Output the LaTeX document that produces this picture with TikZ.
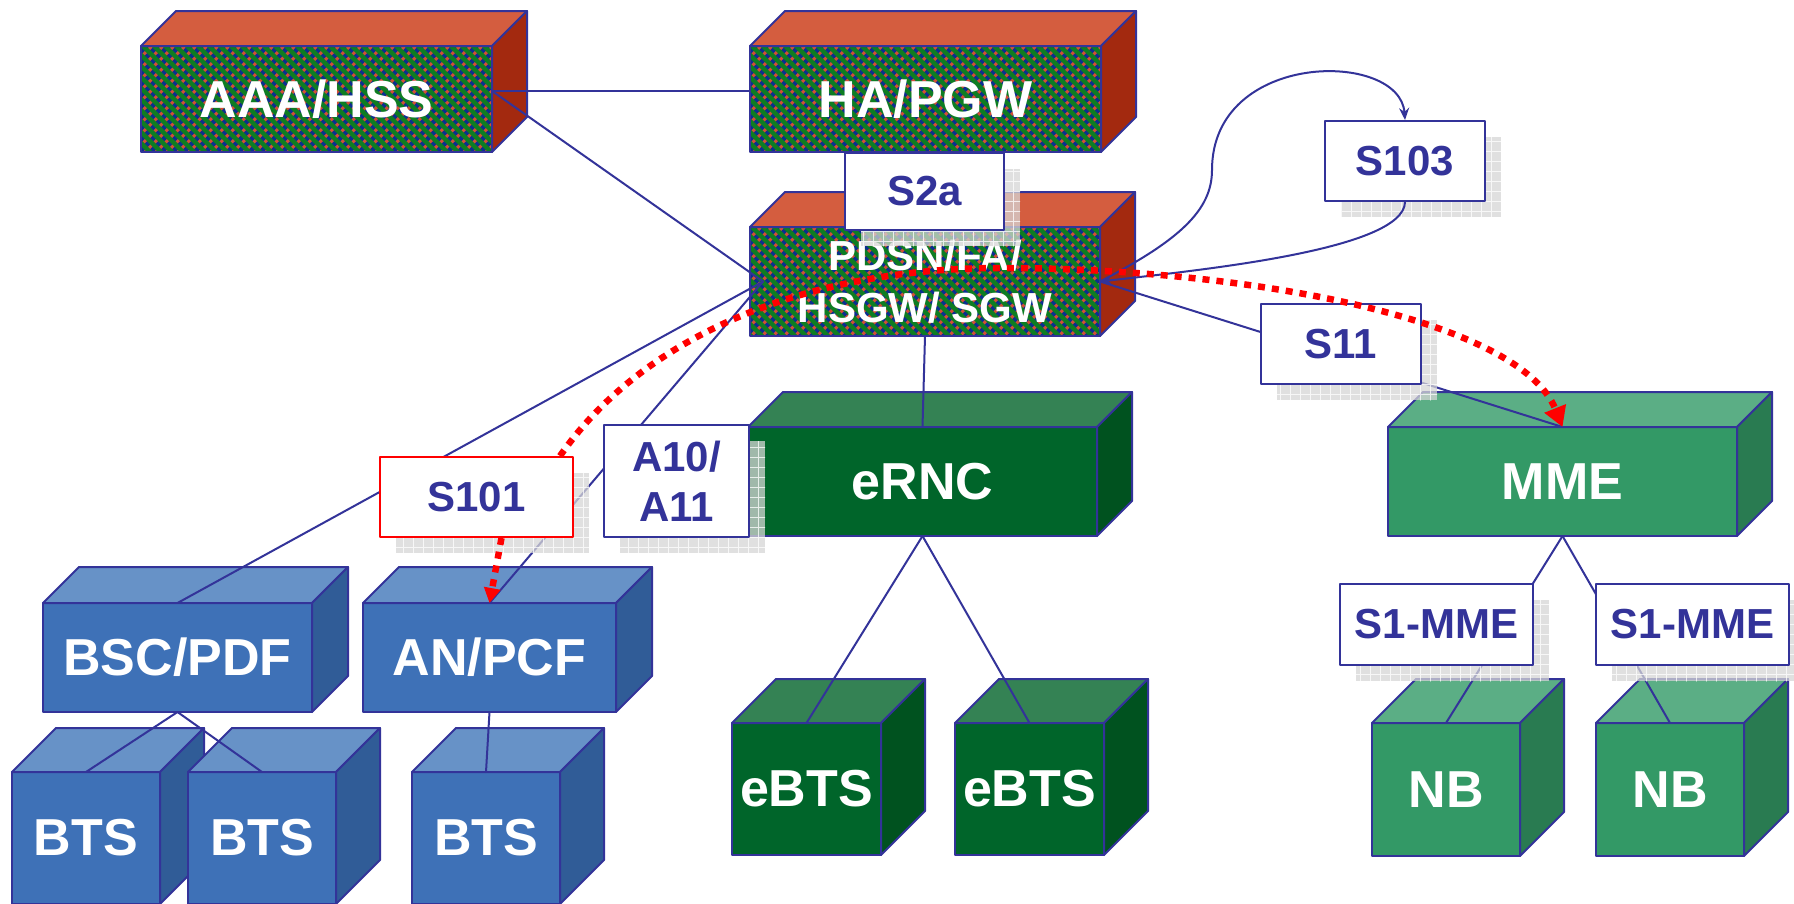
\documentclass[tikz,border=0pt]{standalone}
\usepackage{fontspec}
\setmainfont{Liberation Sans}
\usetikzlibrary{arrows.meta,shadows}

\definecolor{edge}{HTML}{333399}
\definecolor{pblue}{HTML}{0D2E8F}
\definecolor{pgreen}{HTML}{0E7D22}
\definecolor{pred}{HTML}{D24F37}
\definecolor{rtop}{HTML}{D45D3F}
\definecolor{rside}{HTML}{A3290F}
\definecolor{bfront}{HTML}{3E71B7}
\definecolor{btop}{HTML}{6792C7}
\definecolor{bside}{HTML}{305C97}
\definecolor{dfront}{HTML}{00652A}
\definecolor{dtop}{HTML}{348254}
\definecolor{dside}{HTML}{00521F}
\definecolor{gfront}{HTML}{339966}
\definecolor{gtop}{HTML}{5BAE85}
\definecolor{gside}{HTML}{297B51}

\newcommand{\boxfont}{\fontsize{52}{56}\selectfont\bfseries}
\newcommand{\gwfont}{\fontsize{42}{52}\selectfont\bfseries}
\newcommand{\lblfont}{\fontsize{42}{50}\selectfont\bfseries}

% front face as a node, top and side faces drawn round it
\newcommand{\netcube}[9][]{%
  \node[#2, #1, minimum width=#6, minimum height=#7, anchor=north west] (#3) at (#4,#5) {#9};
  \path[#2 top] (#3.north west) -- ([shift={(#8,-#8)}]#3.north west) -- ([shift={(#8,-#8)}]#3.north east) -- (#3.north east) -- cycle;
  \path[#2 side] (#3.north east) -- ([shift={(#8,-#8)}]#3.north east) -- ([shift={(#8,-#8)}]#3.south east) -- (#3.south east) -- cycle;
}

\tikzset{
  cubebase/.style={draw=edge, line width=2pt, text=white, inner sep=0pt, outer sep=0pt, font=\boxfont, align=center},
  redcube/.style={cubebase, fill=pblue,
    path picture={
      \foreach \i in {0,11,...,500}
        \draw[pred, line width=3pt] ([xshift=\i pt]path picture bounding box.north west) -- ++(-130pt,-130pt);
      \foreach \i in {-130,-119,...,360}
        \draw[pgreen, line width=4.5pt] ([xshift=\i pt]path picture bounding box.north west) -- ++(130pt,-130pt);
    }},
  redcube top/.style={draw=edge, line width=2pt, fill=rtop},
  redcube side/.style={draw=edge, line width=2pt, fill=rside},
  bluecube/.style={cubebase, fill=bfront},
  bluecube top/.style={draw=edge, line width=2pt, fill=btop},
  bluecube side/.style={draw=edge, line width=2pt, fill=bside},
  darkcube/.style={cubebase, fill=dfront},
  darkcube top/.style={draw=edge, line width=2pt, fill=dtop},
  darkcube side/.style={draw=edge, line width=2pt, fill=dside},
  greencube/.style={cubebase, fill=gfront},
  greencube top/.style={draw=edge, line width=2pt, fill=gtop},
  greencube side/.style={draw=edge, line width=2pt, fill=gside},
  netline/.style={draw=edge, line width=2pt},
  shadowgrid/.style={fill=black!16, opacity=.75,
    path picture={\draw[white, line width=1pt] (path picture bounding box.south west) grid[step=10pt] (path picture bounding box.north east);}},
  iflabel/.style={draw=edge, line width=2pt, fill=white, text=edge, font=\lblfont, align=center,
    inner sep=0pt, anchor=north west,
    general shadow={shadowgrid, shadow xshift=16pt, shadow yshift=-16pt}},
  reddots/.style={draw=red, line width=6.5pt, line cap=butt, dash pattern=on 7pt off 7pt}
}

\begin{document}
\begin{tikzpicture}[x=1pt, y=-1pt, >=Stealth, line join=round, line cap=round]
\useasboundingbox (0,0) rectangle (1794,903);
% core nodes
\netcube{redcube}{aaa}{141}{46}{351}{106}{35}{AAA/HSS}
\netcube{redcube}{ha}{750}{46}{351}{106}{35}{HA/PGW}
\netcube[font=\gwfont]{redcube}{pdsn}{750}{227}{350}{109}{35}{PDSN/FA/\\HSGW/ SGW}
% access nodes
\netcube{darkcube}{ernc}{748}{427}{349}{109}{35}{eRNC}
\netcube{greencube}{mme}{1388}{427}{349}{109}{35}{MME}
\netcube{bluecube}{bsc}{43}{603}{269}{109}{36}{BSC/PDF}
\netcube{bluecube}{anpcf}{363}{603}{253}{109}{36}{AN/PCF}
\foreach \n/\x in {bts1/12,bts2/188,bts3/412}{
  \netcube{bluecube}{\n}{\x}{772}{148}{132}{44}{BTS}
}
\foreach \n/\x in {ebts1/732,ebts2/955}{
  \netcube{darkcube}{\n}{\x}{723}{149}{132}{44}{eBTS}
}
\foreach \n/\x in {nb1/1372,nb2/1596}{
  \netcube{greencube}{\n}{\x}{723}{148}{133}{44}{NB}
}
% links
\path ([xshift=13pt]pdsn.west) coordinate (P)
      ([yshift=8pt]aaa.east) coordinate (A);
\draw[netline] (A) -- ([yshift=8pt]ha.west);
\draw[netline] (A) -- (P);
\draw[netline] (ha.south) -- (pdsn.north);
\draw[netline] (P) -- (bsc.north);
\draw[netline] (P) -- (anpcf.north);
\draw[netline] (pdsn.south) -- (ernc.north);
\draw[netline] (pdsn.east) -- (mme.north);
\foreach \t in {ebts1,ebts2}{
  \draw[netline] (ernc.south) -- (\t.north);
}
\foreach \t in {nb1,nb2}{
  \draw[netline] (mme.south) -- (\t.north);
}
\foreach \t in {bts1,bts2}{
  \draw[netline] (bsc.south) -- (\t.north);
}
\draw[netline] (anpcf.south) -- (bts3.north);
% interface labels
\node[iflabel, minimum width=159, minimum height=77] (s2a) at (844,152) {S2a};
\node[iflabel, minimum width=160, minimum height=80] (s103) at (1324,120) {S103};
\node[iflabel, minimum width=160, minimum height=80] (s11) at (1260,303) {S11};
\node[iflabel, draw=red, minimum width=193, minimum height=80] (s101) at (379,456) {S101};
\node[iflabel, minimum width=145, minimum height=112] (a10) at (603,424) {A10/\\A11};
\node[iflabel, minimum width=193, minimum height=81] (s1a) at (1339,583) {S1-MME};
\node[iflabel, minimum width=193, minimum height=81] (s1b) at (1595,583) {S1-MME};
% S103 loop
\draw[netline, -{Stealth[length=12pt,width=10pt]}] (s103.south) .. controls (1404,250) and (1200,270) .. (pdsn.east);
\draw[netline, -{Stealth[length=12pt,width=10pt]}] (pdsn.east) .. controls (1180,240) and (1212,210) .. (1212,170)
  .. controls (1212,50) and (1400,50) .. (s103.north);
% handover path
\draw[reddots, -{Triangle[length=20pt,width=22pt]}] ([xshift=-14pt]s101.north east) .. controls (640,340) and (800,268) .. (1000,268)
  .. controls (1250,268) and (1520,320) .. (mme.north);
\draw[reddots, -{Triangle[length=15pt,width=16pt]}] ([xshift=25pt]s101.south) -- (anpcf.north);
\end{tikzpicture}
\end{document}
